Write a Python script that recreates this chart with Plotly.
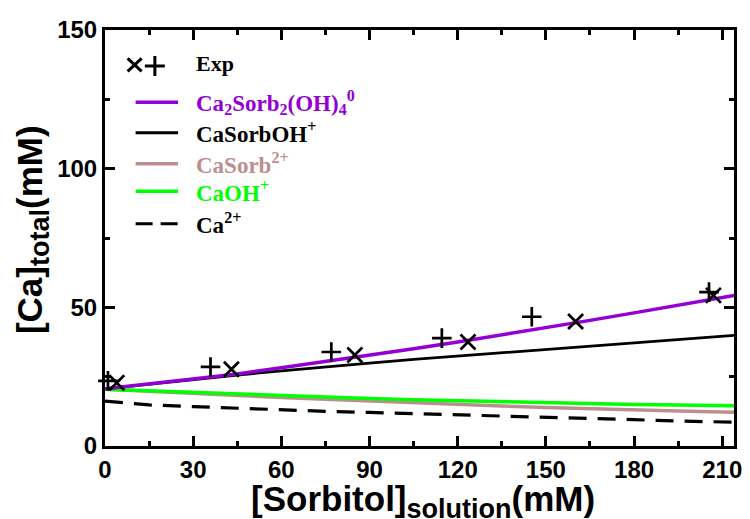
import plotly.graph_objects as go

# ---- data ----
sorbitol_model = [0, 15, 30, 45, 60, 75, 90, 105, 120, 135, 150, 165, 180, 195, 214]
ca2sorb2oh4 = [20.6, 22.4, 24.2, 26.0, 28.2, 30.4, 32.7, 35.1, 37.5, 40.0, 42.6, 45.3, 48.0, 50.8, 54.3]
casorboh = [20.6, 22.3, 24.0, 25.6, 27.1, 28.6, 29.9, 31.2, 32.4, 33.6, 34.8, 36.0, 37.2, 38.4, 39.9]
casorb = [20.5, 19.7, 19.0, 18.2, 17.5, 16.9, 16.2, 15.6, 15.0, 14.4, 13.9, 13.4, 13.0, 12.6, 12.2]
caoh = [20.5, 19.9, 19.4, 18.8, 18.2, 17.6, 17.1, 16.7, 16.3, 15.9, 15.6, 15.3, 15.0, 14.8, 14.5]
ca_free = [16.2, 14.8, 14.2, 13.6, 13.1, 12.5, 12.1, 11.7, 11.3, 10.8, 10.4, 10.0, 9.5, 9.0, 8.6]

exp_plus_x = [1, 35.9, 77, 114.6, 145.2, 205.5]
exp_plus_y = [23.5, 28.5, 33.9, 38.9, 46.6, 55.5]
exp_cross_x = [4, 43, 85, 123.5, 160.1, 207]
exp_cross_y = [22.8, 27.7, 32.8, 37.5, 44.9, 54.3]

x_tickvals = [0, 30, 60, 90, 120, 150, 180, 210]
y_tickvals = [0, 50, 100, 150]

PURPLE = "#9400d3"
BROWN = "#bc8f8f"
GREEN = "#00ff00"
DASH = "18px,11px"
DASH_LEG = "17px,8px"

fig = go.Figure()
fig.add_trace(go.Scatter(x=sorbitol_model, y=ca_free, mode="lines",
                         line=dict(color="black", width=3.2, dash=DASH)))
fig.add_trace(go.Scatter(x=sorbitol_model, y=casorb, mode="lines",
                         line=dict(color=BROWN, width=3.5)))
fig.add_trace(go.Scatter(x=sorbitol_model, y=caoh, mode="lines",
                         line=dict(color=GREEN, width=3.5)))
fig.add_trace(go.Scatter(x=sorbitol_model, y=casorboh, mode="lines",
                         line=dict(color="black", width=2.8)))
fig.add_trace(go.Scatter(x=sorbitol_model, y=ca2sorb2oh4, mode="lines",
                         line=dict(color=PURPLE, width=3.5)))
fig.add_trace(go.Scatter(x=exp_plus_x, y=exp_plus_y, mode="markers", cliponaxis=False,
                         marker=dict(symbol="cross-thin", size=14, color="black",
                                     line=dict(color="black", width=2.7))))
fig.add_trace(go.Scatter(x=exp_cross_x, y=exp_cross_y, mode="markers", cliponaxis=False,
                         marker=dict(symbol="x-thin", size=15, color="black",
                                     line=dict(color="black", width=2.7))))

SANS = "Liberation Sans, Arial, sans-serif"
tickfont = dict(family=SANS, size=24, color="black", weight="bold")

axis_common = dict(showline=True, linecolor="black", linewidth=3, mirror="ticks",
                   ticks="inside", ticklen=10, tickwidth=2.5, tickcolor="black",
                   showgrid=False, zeroline=False, tickfont=tickfont)

fig.update_xaxes(range=[0, 214], tickvals=x_tickvals,
                 minor=dict(dtick=15, tick0=0, ticks="inside", ticklen=5, tickwidth=2.5, tickcolor="black"),
                 **axis_common)
fig.update_yaxes(range=[0, 150], tickvals=y_tickvals,
                 minor=dict(dtick=25, tick0=0, ticks="inside", ticklen=5, tickwidth=2.5, tickcolor="black"),
                 **axis_common)

# ---- layout geometry (page has an 8px body margin) ----
OFF = 8
W, H = 742, 511
L, T = 97, 15.5
pw, ph = 637, 423
R = W - L - pw
B = H - T - ph

def px(x):  # page pixel -> paper x
    return (x - OFF - L) / pw

def py(y):  # page pixel -> paper y
    return (OFF + T + ph - y) / ph

legend_font = dict(family="Liberation Serif, Times New Roman, serif", size=23, weight="bold")
entries = [
    ("Ca<sub>2</sub>Sorb<sub>2</sub>(OH)<sub>4</sub><sup>0</sup>", PURPLE, 97, None, 3.5),
    ("CaSorbOH<sup>+</sup>", "black", 128, None, 2.8),
    ("CaSorb<sup>2+</sup>", BROWN, 159.5, None, 3.5),
    ("CaOH<sup>+</sup>", GREEN, 187.5, None, 3.5),
    ("Ca<sup>2+</sup>", "black", 220.5, DASH_LEG, 3.2),
]
shapes = []
annotations = []
for text, color, yy, dash, w in entries:
    ln = dict(color=color, width=w)
    if dash:
        ln["dash"] = dash
    shapes.append(dict(type="line", xref="paper", yref="paper", x0=px(136), x1=px(179),
                       y0=py(yy), y1=py(yy), line=ln))
    annotations.append(dict(text=text, xref="paper", yref="paper", x=px(195), y=py(yy),
                            xanchor="left", yanchor="middle", showarrow=False,
                            font=dict(color=color, **legend_font)))
annotations.append(dict(text="Exp", xref="paper", yref="paper", x=px(195), y=py(58),
                        xanchor="left", yanchor="middle", showarrow=False,
                        font=dict(color="black", family="Liberation Serif, serif", size=22, weight="bold")))
shapes.append(dict(type="path", xref="paper", yref="paper", xsizemode="pixel", ysizemode="pixel",
                   xanchor=px(135), yanchor=py(59),
                   path="M-7,-6.5L7,6.5M-7,6.5L7,-6.5", line=dict(color="black", width=3)))
shapes.append(dict(type="path", xref="paper", yref="paper", xsizemode="pixel", ysizemode="pixel",
                   xanchor=px(155.5), yanchor=py(60),
                   path="M-10,0L10,0M0,-10L0,10", line=dict(color="black", width=3)))

# axis titles
annotations.append(dict(text="[Sorbitol]<sub><span style='font-size:27px'>solution</span></sub>(mM)",
                        xref="paper", yref="paper", x=px(427), y=py(503),
                        xanchor="center", yanchor="middle", showarrow=False,
                        font=dict(family=SANS, size=35, color="black", weight="bold")))
annotations.append(dict(text="[Ca]<sub><span style='font-size:27px'>total</span></sub>(mM)",
                        xref="paper", yref="paper", x=px(31), y=py(226),
                        xanchor="center", yanchor="middle", textangle=-90, showarrow=False,
                        font=dict(family=SANS, size=35, color="black", weight="bold")))

fig.update_layout(width=W, height=H, margin=dict(l=L, r=R, t=T, b=B),
                  paper_bgcolor="white", plot_bgcolor="white", showlegend=False,
                  shapes=shapes, annotations=annotations)

fig.write_html("out.html")
